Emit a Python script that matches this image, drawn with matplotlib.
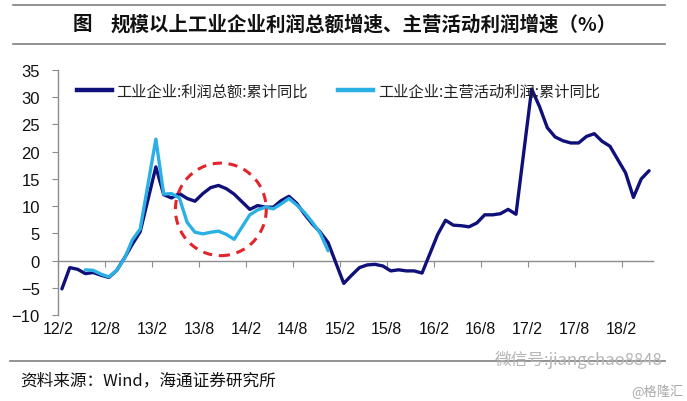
import numpy as np
import matplotlib
matplotlib.use("Agg")
import matplotlib.pyplot as plt
from matplotlib.lines import Line2D
from matplotlib.patches import Ellipse

plt.rcParams['font.family'] = ['Liberation Sans', 'Noto Sans CJK SC', 'DejaVu Sans']
CJK = ['Noto Sans CJK SC', 'DejaVu Sans']

# ---------------- data ----------------
# monthly categories 2012-02 .. 2018-05 (January values are not published -> NaN)
months = []
for y in range(12, 19):
    for m in range(1, 13):
        if (y == 12 and m < 2) or (y == 18 and m > 5):
            continue
        months.append(f"{y}/{m}")

nan = np.nan
profit_total = [
    -5.2, -1.3, -1.6, -2.4, -2.2, -2.7, -3.1, -1.8, 0.5, 3.0, 5.3,            # 12/2-12/12
    nan, 17.2, 12.1, 11.5, 12.3, 11.4, 10.9, 12.3, 13.4, 13.8, 13.2, 12.2,     # 13
    nan, 9.4, 10.1, 9.8, 9.8, 11.0, 11.8, 10.5, 8.5, 6.7, 5.2, 3.3,            # 14
    nan, -4.2, -2.7, -1.3, -0.8, -0.7, -1.0, -1.9, -1.7, -1.9, -1.9, -2.3,     # 15
    nan, 4.8, 7.4, 6.5, 6.4, 6.2, 6.9, 8.4, 8.4, 8.6, 9.4, 8.5,                # 16
    nan, 31.5, 28.3, 24.4, 22.7, 22.0, 21.6, 21.6, 22.8, 23.3, 21.9, 21.0,     # 17
    nan, 16.1, 11.6, 15.0, 16.5,                                               # 18
]
main_profit = [
    nan, nan, nan, -1.7, -1.8, -2.5, -3.0, -1.8, 0.4, 3.8, 5.8,                # 12
    nan, 22.3, 12.2, 12.3, 11.5, 7.0, 5.2, 4.9, 5.2, 5.4, 4.8, 3.9,            # 13
    nan, 8.4, 9.3, 9.8, 9.5, 10.4, 11.4, 10.2, 8.8, 7.0, 5.0, 1.8,             # 14
] + [nan] * 41

tick_labels = ["12/2", "12/8", "13/2", "13/8", "14/2", "14/8", "15/2",
               "15/8", "16/2", "16/8", "17/2", "17/8", "18/2"]

series_names = ["工业企业:利润总额:累计同比", "工业企业:主营活动利润:累计同比"]
title_text = "规模以上工业企业利润总额增速、主营活动利润增速（%）"
source_text = "资料来源：Wind，海通证券研究所"

# highlight circle (data coordinates: centre x index, centre value, width, height)
circle_spec = (20.3, 9.4, 11.6, 17.0)

# ---------------- figure ----------------
fig = plt.figure(figsize=(6.87, 4.02), dpi=100)
ax = fig.add_axes([58 / 687, 1 - 316 / 402, (653 - 58) / 687, (316 - 71) / 402])

x = np.arange(len(months))
pt = np.array(profit_total, dtype=float)
mp = np.array(main_profit, dtype=float)
dark = '#10107A'
light = '#2BB0E6'

m1 = ~np.isnan(pt)
m2 = ~np.isnan(mp)
ax.plot(x[m1], pt[m1], color=dark, lw=2.4, solid_joinstyle='round', solid_capstyle='round', zorder=3)
ax.plot(x[m2], mp[m2], color=light, lw=2.4, solid_joinstyle='round', solid_capstyle='round', zorder=4)

cx, cy, cw, ch = circle_spec
ax.add_patch(Ellipse((cx, cy), cw, ch, fill=False, edgecolor='#E3242B', lw=2.2,
                     linestyle=(0, (3, 2.2)), zorder=5))

ax.set_xlim(-0.5, len(months) - 0.5)
ax.set_ylim(-10, 35)
ax.set_yticks(np.arange(-10, 36, 5))

axis_col = '#8C8C8C'
for s in ['top', 'right']:
    ax.spines[s].set_visible(False)
ax.spines['left'].set_color(axis_col)
ax.spines['left'].set_linewidth(1.0)
ax.spines['bottom'].set_position(('data', 0))
ax.spines['bottom'].set_color(axis_col)
ax.spines['bottom'].set_linewidth(1.0)

tick_pos = [months.index(t) - 0.5 for t in tick_labels]
ax.set_xticks(tick_pos)
ax.tick_params(axis='x', direction='out', length=4.5, color=axis_col, labelbottom=False)
ax.tick_params(axis='y', direction='out', length=4, color=axis_col, pad=9,
               labelsize=12, labelcolor='#111111')

sec = ax.secondary_xaxis('bottom')
sec.set_xticks(tick_pos)
sec.set_xticklabels(tick_labels)
sec.spines['bottom'].set_visible(False)
sec.tick_params(length=0, pad=4.5, labelsize=11.5, labelcolor='#111111')

# legend
handles = [Line2D([], [], color=dark, lw=3.2), Line2D([], [], color=light, lw=3.2)]
leg = fig.legend(handles, series_names, loc='center left',
                 bbox_to_anchor=(77 / 687, 1 - 92 / 402), bbox_transform=fig.transFigure,
                 ncol=2, frameon=False, borderpad=0, borderaxespad=0,
                 handlelength=2.3, handletextpad=0.3, columnspacing=1.95,
                 prop={'family': CJK, 'size': 11})
for t in leg.get_texts():
    t.set_color('#222222')

# title block
fig.add_artist(Line2D([13 / 687, 665 / 687], [1 - 6 / 402, 1 - 6 / 402], color='#7F7F7F', lw=1.2))
fig.add_artist(Line2D([13 / 687, 665 / 687], [1 - 45 / 402, 1 - 45 / 402], color='#7F7F7F', lw=1.2))
fig.text(73 / 687, 1 - 25 / 402, "图", family=CJK, size=14, weight='bold',
         ha='left', va='center', color='#111111')
fig.text(111 / 687, 1 - 25 / 402, title_text, family=CJK, size=14, weight='bold',
         ha='left', va='center', color='#111111')

# source block
fig.add_artist(Line2D([10 / 687, 665 / 687], [1 - 362 / 402, 1 - 362 / 402], color='#7F7F7F', lw=1.2))
fig.text(20 / 687, 1 - 381 / 402, source_text, family=CJK, size=12,
         ha='left', va='center', color='#111111')
fig.text(662 / 687, 1 - 360 / 402, "微信号:jiangchao8848", family=CJK, size=12,
         ha='right', va='center', color='#B5B5B5')
fig.text(684 / 687, 1 - 392 / 402, "@格隆汇", family=CJK, size=9.5,
         ha='right', va='center', color='#A8A8A8')

fig.savefig("out.png", dpi=100)
